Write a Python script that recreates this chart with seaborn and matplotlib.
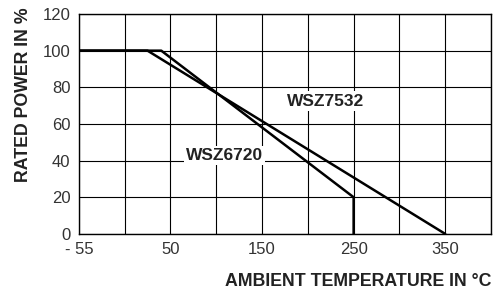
import pandas as pd
import matplotlib
matplotlib.use("Agg")
import matplotlib.pyplot as plt
import seaborn as sns

# derating curves (left edge labelled -55 but drawn on the 50-degree grid)
temp_6720 = [-50, 40, 250, 250]
power_6720 = [100, 100, 20, 0]
temp_7532 = [-50, 25, 350]
power_7532 = [100, 100, 0]

x_ticks = [-50, 50, 150, 250, 350]
x_labels = ["- 55", "50", "150", "250", "350"]
y_ticks = [0, 20, 40, 60, 80, 100, 120]

sns.set_style("white")
plt.rcParams['font.family'] = ['Liberation Sans', 'DejaVu Sans']

df_a = pd.DataFrame({'temp': temp_6720, 'power': power_6720})
df_b = pd.DataFrame({'temp': temp_7532, 'power': power_7532})

fig = plt.figure(figsize=(4.99, 2.92), dpi=100)
ax = fig.add_axes([0.158, 0.199, 0.826, 0.753])

sns.lineplot(data=df_a, x='temp', y='power', sort=False, estimator=None,
             color='black', lw=1.8, ax=ax, zorder=3)
sns.lineplot(data=df_b, x='temp', y='power', sort=False, estimator=None,
             color='black', lw=1.8, ax=ax, zorder=3)

ax.set_xlim(-50, 400)
ax.set_ylim(0, 120)
# grid every 50, labels only on every other line
ax.set_xticks(range(-50, 401, 50))
ax.set_xticklabels([x_labels[x_ticks.index(t)] if t in x_ticks else ""
                    for t in range(-50, 401, 50)])
ax.set_yticks(y_ticks)
ax.grid(True, color='black', lw=0.8)
ax.tick_params(length=0, labelsize=12, labelcolor='#333333', pad=6)
for s in ax.spines.values():
    s.set_color('black')
    s.set_linewidth(1.0)

ax.text(219, 72.5, "WSZ7532", ha='center', va='center', fontsize=12.5,
        fontweight='bold', color='#222222', zorder=4,
        bbox=dict(facecolor='white', edgecolor='none', pad=1.5))
ax.text(109, 43, "WSZ6720", ha='center', va='center', fontsize=12.5,
        fontweight='bold', color='#222222', zorder=4,
        bbox=dict(facecolor='white', edgecolor='none', pad=1.5))

ax.set_xlabel("AMBIENT TEMPERATURE IN °C", fontsize=12.8, fontweight='bold',
              color='#222222', loc='right')
ax.xaxis.set_label_coords(1.0, -0.18)
ax.set_ylabel("RATED POWER IN %", fontsize=12.8, fontweight='bold',
              color='#222222', loc='top')
ax.yaxis.set_label_coords(-0.114, 1.03)

fig.savefig("out.png", dpi=100)
